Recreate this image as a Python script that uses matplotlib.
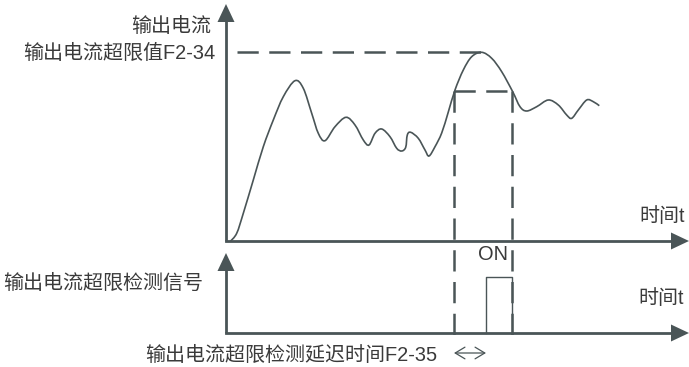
import numpy as np
import matplotlib
matplotlib.use("Agg")
import matplotlib.pyplot as plt
from matplotlib.path import Path
from matplotlib.patches import PathPatch, Polygon

plt.rcParams['font.family'] = ['Liberation Sans', 'Noto Sans CJK SC']

# output current curve (pixel coords, y down)
cur_x = [230, 236.7, 243.3, 253.3, 263.3, 273.3, 283.3, 295, 303.3, 311.7, 318.3, 325,
         335, 346, 355, 363.3, 369, 375, 381.7, 390, 396.7, 401.7, 405.7, 407.3, 410.7,
         418.3, 425, 429, 435, 441.7, 448.3, 455, 463.3, 471.7, 481.7, 491.7, 501.7,
         512.7, 520, 526.7, 536.7, 548.3, 558.3, 566.7, 571.7, 578.3, 586.7, 593.3, 599.3]
cur_y = [241.7, 233.3, 213.3, 180, 146.7, 120, 96.7, 80.7, 88.3, 113.3, 133.3, 140.7,
         126.7, 117.3, 125, 140, 145, 133.3, 129, 136.7, 148.3, 151, 147.3, 135, 132.3,
         138.3, 150, 156, 146.7, 133, 112, 90, 70, 56.7, 52.3, 58.3, 71.7,
         91.7, 106.7, 111, 106.7, 100, 105, 115, 118.3, 110, 100, 101.7, 105.7]

# key levels / times
x_axis0 = 226
y_top_axis = 241
y_bot_axis = 333
y_limit = 52
y_on = 91
t_on, t_off = 454, 512
t_pulse = 486
y_pulse = 277

ink = '#4a5557'
txt = '#3a3a3a'
fs = 14.4

fig = plt.figure(figsize=(6.89, 3.67), dpi=100)
ax = fig.add_axes([0, 0, 1, 1])
ax.set_xlim(0, 689)
ax.set_ylim(367, 0)
ax.axis('off')


def smooth_path(xs, ys):
    p = np.column_stack([xs, ys])
    verts = [p[0]]
    codes = [Path.MOVETO]
    for i in range(len(p) - 1):
        p0 = p[i - 1] if i > 0 else p[i]
        p1, p2 = p[i], p[i + 1]
        p3 = p[i + 2] if i + 2 < len(p) else p[i + 1]
        verts += [p1 + (p2 - p0) / 6, p2 - (p3 - p1) / 6, p2]
        codes += [Path.CURVE4] * 3
    return Path(verts, codes)


def arrow_head(tip, direction, length=18, width=17):
    tx, ty = tip
    if direction == 'up':
        pts = [(tx, ty), (tx - width / 2, ty + length), (tx + width / 2, ty + length)]
    else:
        pts = [(tx, ty), (tx - length, ty - width / 2), (tx - length, ty + width / 2)]
    ax.add_patch(Polygon(pts, closed=True, color=ink, lw=0))


# axes
lw_axis = 2.0
ax.plot([x_axis0, x_axis0], [y_top_axis, 20], color=ink, lw=lw_axis, solid_capstyle='butt')
ax.plot([x_axis0, 672], [y_top_axis, y_top_axis], color=ink, lw=lw_axis)
arrow_head((x_axis0, 4), 'up')
arrow_head((689, y_top_axis), 'right')

ax.plot([x_axis0, x_axis0], [y_bot_axis, 268], color=ink, lw=lw_axis, solid_capstyle='butt')
ax.plot([x_axis0, 672], [y_bot_axis, y_bot_axis], color=ink, lw=lw_axis)
arrow_head((x_axis0, 253), 'up')
arrow_head((689, y_bot_axis), 'right')

# dashed guides
dash = dict(color=ink, lw=1.8, dashes=(8.5, 4.2))
ax.plot([237, 483], [y_limit, y_limit], **dash)
ax.plot([t_on, t_off], [y_on, y_on], **dash)
ax.plot([t_on, t_on], [y_on, 336], **dash)
ax.plot([t_off, t_off], [y_on, 336], **dash)

# current curve
ax.add_patch(PathPatch(smooth_path(cur_x, cur_y), fill=False, edgecolor=ink, lw=1.2))

# detection pulse
ax.plot([t_pulse, t_pulse, t_off, t_off], [y_bot_axis, y_pulse, y_pulse, y_bot_axis],
        color=ink, lw=1.0)

# delay arrow
ax.annotate('', xy=(t_pulse, 353), xytext=(t_on, 353),
            arrowprops=dict(arrowstyle='<->,head_length=0.5,head_width=0.3', color=ink,
                            lw=0.9, shrinkA=0, shrinkB=0, mutation_scale=14))

# texts
ax.text(211, 26, '输出电流', ha='right', va='center', fontsize=fs, color=txt)
ax.text(215, 53, '输出电流超限值F2-34', ha='right', va='center', fontsize=fs, color=txt)
ax.text(639, 216, '时间t', ha='left', va='center', fontsize=fs, color=txt)
ax.text(638, 299, '时间t', ha='left', va='center', fontsize=fs, color=txt)
ax.text(493, 255, 'ON', ha='center', va='center', fontsize=fs, color=txt)
ax.text(203, 283, '输出电流超限检测信号', ha='right', va='center', fontsize=fs, color=txt)
ax.text(437, 355, '输出电流超限检测延迟时间F2-35', ha='right', va='center', fontsize=fs, color=txt)

fig.savefig('out.png', dpi=100)
